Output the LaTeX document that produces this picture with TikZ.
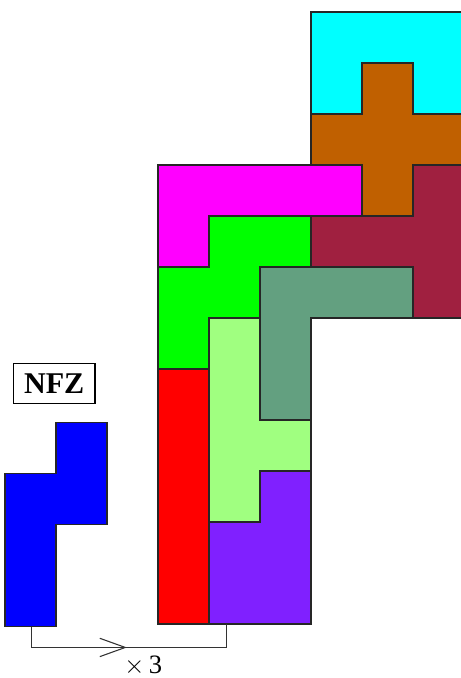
\documentclass[tikz,border=0pt]{standalone}
\usepackage{fontspec}
\setmainfont{Liberation Serif}
\usepackage{tikz}
\usetikzlibrary{arrows.meta, positioning}

\definecolor{cyanpc}{RGB}{0,255,255}
\definecolor{brownpc}{RGB}{192,96,0}
\definecolor{crimsonpc}{RGB}{160,32,64}
\definecolor{magentapc}{RGB}{255,0,255}
\definecolor{greenpc}{RGB}{0,255,0}
\definecolor{sagepc}{RGB}{99,160,128}
\definecolor{limepc}{RGB}{160,255,128}
\definecolor{redpc}{RGB}{255,0,0}
\definecolor{violetpc}{RGB}{128,32,255}
\definecolor{bluepc}{RGB}{0,0,255}

\tikzset{
  % --- Pentomino ---------------------------------------------
  piece/.style={draw=black!85, line width=0.7pt, line join=miter},
  % --- Nhan va mui ten ---------------------------------------
  namebox/.style={draw, line width=0.7pt, minimum width=1.6cm,
    minimum height=0.78cm, inner sep=0pt, align=center,
    font=\fontsize{16.8}{20}\selectfont\bfseries},
  scalelbl/.style={inner sep=0pt, font=\fontsize{14.8}{18}\selectfont},
  bracket/.style={draw=black!80, line width=0.7pt},
  barb/.style={-{Straight Barb[length=0.5cm, width=0.36cm, line width=0.6pt]}}
}

\begin{document}
\begin{tikzpicture}[x=1cm, y=-1cm]

  \useasboundingbox (-0.098,-0.235) rectangle (8.941,13.059);

  % --- Hinh N phong to 3 lan, lat bang 9 mieng ---
  \draw[piece, fill=cyanpc]    (6,0) -- (9,0) -- (9,2) -- (8,2) -- (8,1)
    -- (7,1) -- (7,2) -- (6,2) -- cycle;
  \draw[piece, fill=brownpc]   (7,1) -- (8,1) -- (8,2) -- (9,2) -- (9,3)
    -- (8,3) -- (8,4) -- (7,4) -- (7,3) -- (6,3) -- (6,2) -- (7,2) -- cycle;
  \draw[piece, fill=crimsonpc] (8,3) -- (9,3) -- (9,6) -- (8,6) -- (8,5)
    -- (6,5) -- (6,4) -- (8,4) -- cycle;
  \draw[piece, fill=magentapc] (3,3) -- (7,3) -- (7,4) -- (4,4) -- (4,5)
    -- (3,5) -- cycle;
  \draw[piece, fill=greenpc]   (4,4) -- (6,4) -- (6,5) -- (5,5) -- (5,6)
    -- (4,6) -- (4,7) -- (3,7) -- (3,5) -- (4,5) -- cycle;
  \draw[piece, fill=sagepc]    (5,5) -- (8,5) -- (8,6) -- (6,6) -- (6,8)
    -- (5,8) -- cycle;
  \draw[piece, fill=redpc]     (3,7) -- (4,7) -- (4,12) -- (3,12) -- cycle;
  \draw[piece, fill=limepc]    (4,6) -- (5,6) -- (5,8) -- (6,8) -- (6,9)
    -- (5,9) -- (5,10) -- (4,10) -- cycle;
  \draw[piece, fill=violetpc]  (5,9) -- (6,9) -- (6,12) -- (4,12) -- (4,10)
    -- (5,10) -- cycle;

  % --- Mieng N goc ---
  \draw[piece, fill=bluepc, yshift=-0.05cm] (1,8) -- (2,8) -- (2,10)
    -- (1,10) -- (1,12) -- (0,12) -- (0,9) -- (1,9) -- cycle;

  \node[namebox] (nfz) at (0.964,7.28) {NFZ};

  % --- Noi mieng goc voi hinh phong to ---
  \coordinate (blueb) at (0.52,12.05);
  \coordinate (tileb) at (4.35,12);
  \coordinate (bl)    at (0.52,12.46);
  \coordinate (br)    at (4.35,12.46);
  \coordinate (tip)   at (2.39,12.46);
  \draw[bracket] (blueb) -- (bl) -- (br) -- (tileb);
  \draw[bracket, barb] (bl) -- (tip);

  \node[scalelbl] (times) at (2.71,12.82) {$\times$\,3};

\end{tikzpicture}
\end{document}
